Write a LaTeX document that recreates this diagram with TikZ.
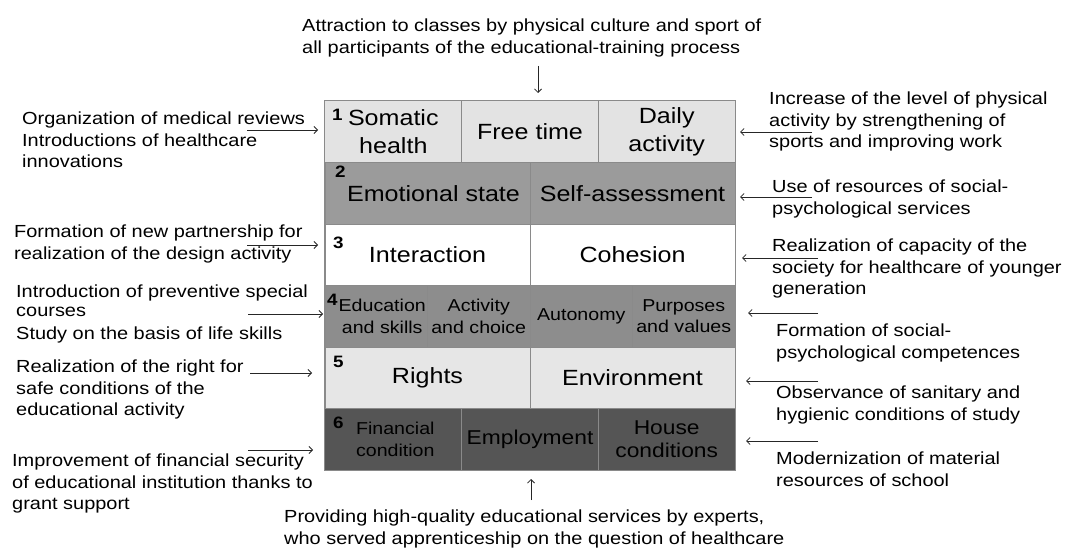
\documentclass[tikz,border=0pt]{standalone}
\usepackage{fontspec}
\setmainfont{Liberation Sans}[FakeStretch=1.14]
\usetikzlibrary{arrows.meta}
\definecolor{rowone}{HTML}{E3E3E3}
\definecolor{rowtwo}{HTML}{9B9B9B}
\definecolor{rowfour}{HTML}{8D8D8D}
\definecolor{rowfive}{HTML}{E6E6E6}
\definecolor{rowsix}{HTML}{555555}
\definecolor{gridline}{HTML}{8A8A8A}
\tikzset{
  cell/.style={draw=gridline, line width=1pt, align=center, inner sep=0pt, minimum height=61.5pt},
  third/.style={cell, minimum width=136.67pt},
  half/.style={cell, minimum width=205pt},
  quarter/.style={cell, minimum width=102.5pt},
  big/.style={font=\fontsize{22}{28}\selectfont},
  mid/.style={font=\fontsize{20}{23.5}\selectfont},
  small/.style={font=\fontsize{17.2}{21.5}\selectfont},
  num/.style={anchor=north west, inner sep=0pt, font=\fontsize{16.5}{16.5}\selectfont\bfseries},
  lbl/.style={anchor=north west, inner sep=0pt, align=left, font=\fontsize{17.5}{21.5}\selectfont},
  arr/.style={draw=black!85, line width=0.8pt, -{Straight Barb[length=3.5pt,width=7pt]}}
}
\begin{document}
\begin{tikzpicture}[x=1pt,y=-1pt]
\useasboundingbox[fill=white] (0,0) rectangle (1067,548);

% row 1
\node[third, fill=rowone, big] (r1a) at (393.3,131.75) {Somatic\\health};
\node[third, fill=rowone, big] (r1b) at (530,131.75) {Free time};
\node[third, fill=rowone, big] (r1c) at (666.7,131.75) {Daily\\activity};
% row 2
\node[half, fill=rowtwo, big] (r2a) at (427.5,193.25) {\hspace*{12pt}Emotional state};
\node[half, fill=rowtwo, big] (r2b) at (632.5,193.25) {Self-assessment};
% row 3
\node[half, fill=white, big] (r3a) at (427.5,254.75) {Interaction};
\node[half, fill=white, big] (r3b) at (632.5,254.75) {Cohesion};
% row 4
\node[quarter, fill=rowfour, small] (r4a) at (376.25,316.25) {\hspace*{12pt}Education\\\hspace*{12pt}and skills};
\node[quarter, fill=rowfour, small] (r4b) at (478.75,316.25) {Activity\\and choice};
\node[quarter, fill=rowfour, small] (r4c) at (581.25,316.25) {Autonomy};
\node[quarter, fill=rowfour, small] (r4d) at (683.75,316.25) {Purposes\\and values};
% row 5
\node[half, fill=rowfive, big] (r5a) at (427.5,377.75) {Rights};
\node[half, fill=rowfive, big] (r5b) at (632.5,377.75) {Environment};
% row 6
\node[third, fill=rowsix, small] (r6a) at (393.3,439.25) {\hspace*{4pt}Financial\\\hspace*{4pt}condition};
\node[third, fill=rowsix, mid] (r6b) at (530,439.25) {Employment};
\node[third, fill=rowsix, mid] (r6c) at (666.7,439.25) {House\\conditions};
\draw[gridline, line width=1pt] (r1a.north west) rectangle (r6c.south east);

% row numbers
\node[num] (n1) at (332,109) {1};
\node[num] (n2) at (335,166) {2};
\node[num] (n3) at (333,237) {3};
\node[num] (n4) at (327,294) {4};
\node[num] (n5) at (333,356) {5};
\node[num] (n6) at (333,417) {6};

% top and bottom texts
\node[lbl] (top) at (302,19) {Attraction to classes by physical culture and sport of\\all participants of the educational-training process};
\node[lbl] (bot) at (284,510) {Providing high-quality educational services by experts,\\who served apprenticeship on the question of healthcare};

% left texts
\node[lbl] (l1) at (22,112) {Organization of medical reviews\\Introductions of healthcare\\innovations};
\node[lbl] (l2) at (14,225) {Formation of new partnership for\\realization of the design activity};
\node[lbl] (l3) at (16,285) {Introduction of preventive special\\[-2.5pt]courses\\[1.5pt]Study on the basis of life skills};
\node[lbl] (l4) at (16,360) {Realization of the right for\\safe conditions of the\\educational activity};
\node[lbl] (l5) at (12,454) {Improvement of financial security\\of educational institution thanks to\\grant support};

% right texts
\node[lbl] (rt1) at (769,92) {Increase of the level of physical\\activity by strengthening of\\sports and improving work};
\node[lbl] (rt2) at (772,180) {Use of resources of social-\\psychological services};
\node[lbl] (rt3) at (772,239) {Realization of capacity of the\\society for healthcare of younger\\generation};
\node[lbl] (rt4) at (776,324) {Formation of social-\\psychological competences};
\node[lbl] (rt5) at (776,386) {Observance of sanitary and\\hygienic conditions of study};
\node[lbl] (rt6) at (776,452) {Modernization of material\\resources of school};

% arrow end points
\coordinate (tt) at (538,66);  \coordinate (th) at (538,93);
\coordinate (bt) at (531,500); \coordinate (bh) at (531,479);
\coordinate (a1t) at (247,130); \coordinate (a1h) at (318,130);
\coordinate (a2t) at (247,245); \coordinate (a2h) at (318,245);
\coordinate (a3t) at (248,314); \coordinate (a3h) at (323,314);
\coordinate (a4t) at (250,373); \coordinate (a4h) at (312,373);
\coordinate (a5t) at (248,450); \coordinate (a5h) at (313,450);
\coordinate (b1t) at (812,132); \coordinate (b1h) at (740,132);
\coordinate (b2t) at (812,197); \coordinate (b2h) at (740,197);
\coordinate (b3t) at (818,258); \coordinate (b3h) at (742,258);
\coordinate (b4t) at (818,313); \coordinate (b4h) at (748,313);
\coordinate (b5t) at (818,381); \coordinate (b5h) at (746,381);
\coordinate (b6t) at (818,441); \coordinate (b6h) at (746,441);

\draw[arr] (tt) -- (th);
\draw[arr] (bt) -- (bh);
\foreach \i in {1,...,5} { \draw[arr] (a\i t) -- (a\i h); }
\foreach \i in {1,...,6} { \draw[arr] (b\i t) -- (b\i h); }
\end{tikzpicture}
\end{document}
